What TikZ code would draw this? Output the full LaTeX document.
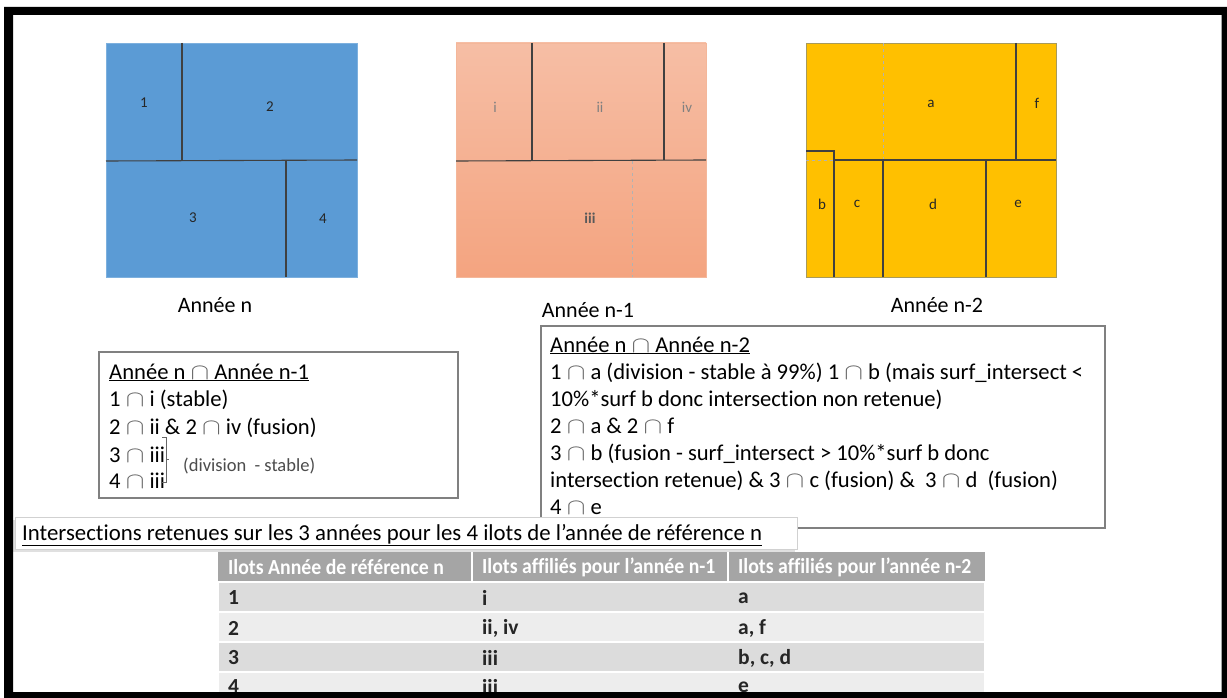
\documentclass[tikz,border=0pt]{standalone}
\usepackage{fontspec}
\setmainfont{Carlito}[Ligatures={NoCommon}]
\definecolor{bluefill}{HTML}{5B9BD5}
\definecolor{blueedge}{HTML}{7DB0DE}
\definecolor{pinktop}{HTML}{F6BEA5}
\definecolor{pinkbot}{HTML}{F4A480}
\definecolor{pinkedge}{HTML}{F4B79A}
\definecolor{yelfill}{HTML}{FFC000}
\definecolor{yeledge}{HTML}{A89A5A}
\definecolor{thfill}{HTML}{A5A5A5}
\definecolor{rowA}{HTML}{DCDCDC}
\definecolor{rowB}{HTML}{EDEDED}
\begin{document}
\begin{tikzpicture}[x=1pt,y=-1pt,
  sq/.style={font=\fontsize{15}{15}\selectfont, text=black!85, inner sep=0pt},
  sqg/.style={font=\fontsize{15}{15}\selectfont, text=black!50, inner sep=0pt},
  capt/.style={font=\fontsize{22}{22}\selectfont, inner sep=0pt},
  ln/.style={anchor=west, inner sep=0pt, font=\fontsize{22.6}{27}\selectfont, text height=15pt, text depth=5pt},
  part/.style={draw=black!75, line width=1.1pt},
  dsh/.style={draw=gray!60, dashed, line width=0.7pt},
  tbox/.style={draw=black!50, line width=1.3pt, fill=white},
  th/.style={anchor=west, font=\bfseries\fontsize{21.5}{21.5}\selectfont, text=white, inner sep=0pt, xscale=0.92},
  td/.style={anchor=west, font=\bfseries\fontsize{21.5}{21.5}\selectfont, text=black!85, inner sep=0pt},
  cell/.style={draw=white, line width=1.5pt}
]
\newcommand{\inter}{{\color{black!60}\scalebox{1.35}[1.1]{$\cap$}}}
\useasboundingbox (0,0) rectangle (1227,698);
\fill[white] (0,0) rectangle (1227,698);

% ---- Année n (blue)
\fill[bluefill, draw=blueedge, line width=0.8pt] (106,43) rectangle (357,277);
\draw[part] (182,43) -- (182,161);
\draw[part] (106,161) -- (357,160);
\draw[part] (286,160) -- (286,277);
\node[sq] (b1) at (144,103) {1};
\node[sq] (b2) at (270,107) {2};
\node[sq] (b3) at (193,218) {3};
\node[sq] (b4) at (323,219) {4};
\node[capt] (cn) at (215,305) {Année n};

% ---- Année n-1 (pink)
\shade[top color=pinktop, bottom color=pinkbot] (456,43) rectangle (706,277);
\draw[pinkedge, line width=0.8pt] (456,43) rectangle (706,277);
\draw[part] (532,43) -- (532,161);
\draw[part] (664,43) -- (664,160);
\draw[part] (456,161) -- (706,160);
\draw[dsh] (632,161) -- (632,277);
\node[sqg] (pi) at (495,107) {i};
\node[sqg] (pii) at (600,107) {ii};
\node[sqg] (piv) at (687,107) {iv};
\node[sq, text=black!65, font=\bfseries\fontsize{15}{15}\selectfont] (piii) at (590,218) {iii};
\node[capt] (cn1) at (588,310) {Année n-1};

% ---- Année n-2 (yellow)
\fill[yelfill, draw=yeledge, line width=0.8pt] (806,43) rectangle (1056,277);
\draw[dsh] (883,43) -- (883,160);
\draw[dsh] (806,160) -- (834,160);
\draw[part] (806,151) -- (834,151) -- (834,277);
\draw[part] (834,160) -- (1056,160);
\draw[part] (1016,43) -- (1016,160);
\draw[part] (883,160) -- (883,277);
\draw[part] (986,160) -- (986,277);
\node[sq] (ya) at (931,104) {a};
\node[sq] (yf) at (1037,103) {f};
\node[sq] (yb) at (822,204) {b};
\node[sq] (yc) at (857,204) {c};
\node[sq] (yd) at (933,204) {d};
\node[sq] (ye) at (1018,204) {e};
\node[capt] (cn2) at (937,305) {Année n-2};

% ---- left text box
\draw[tbox] (99,352) rectangle (458,498);
\node[ln] (l0) at (109,374) {\underline{Année n \inter{} Année n-1}};
\node[ln] (l1) at (109,401) {1 \inter{} i (stable)};
\node[ln] (l2) at (109,429) {2 \inter{} ii \& 2 \inter{} iv (fusion)};
\node[ln] (l3) at (109,457) {3 \inter{} iii};
\node[ln] (l4) at (109,483) {4 \inter{} iii};
\draw[black!60, line width=0.8pt] (162,437) -- (166,437) -- (166,482) -- (162,482);
\draw[black!60, line width=0.8pt] (166,459) -- (169,459);
\node[anchor=west, inner sep=0pt, font=\fontsize{18.5}{18.5}\selectfont, text=black!70] (ldiv) at (183,466) {(division~ - stable)};

% ---- right text box
\draw[tbox] (541,326) rectangle (1105,528);
\node[ln] (r0) at (550,347) {\underline{Année n \inter{} Année n-2}};
\node[ln] (r1) at (550,374) {1 \inter{} a (division - stable à 99\%) 1 \inter{} b (mais surf\_intersect <};
\node[ln] (r2) at (550,401) {10\%*surf b donc intersection non retenue)};
\node[ln] (r3) at (550,428) {2 \inter{} a \& 2 \inter{} f};
\node[ln] (r4) at (550,455) {3 \inter{} b (fusion - surf\_intersect > 10\%*surf b donc};
\node[ln] (r5) at (550,482) {intersection retenue) \& 3 \inter{} c (fusion) \&~ 3 \inter{} d~ (fusion)};
\node[ln] (r6) at (550,509) {4 \inter{} e};

% ---- overlay title box
\fill[black!12] (12,520) rectangle (795,552);
\fill[white, draw=black!18, line width=0.8pt] (15,517) rectangle (797,549);
\node[anchor=west, inner sep=0pt, font=\fontsize{22.8}{22.8}\selectfont] (ttl) at (22,535)
  {\underline{Intersections retenues sur les 3 années pour les 4 ilots de l’année de référence n}};

% ---- table
\fill[thfill] (218,552) rectangle (985,582);
\draw[cell] (472,552) -- (472,582);
\draw[cell] (728,552) -- (728,582);
\filldraw[fill=rowA, cell] (218,582) rectangle (985,612);
\filldraw[fill=rowB, cell] (218,612) rectangle (985,642);
\filldraw[fill=rowA, cell] (218,642) rectangle (985,672);
\filldraw[fill=rowB, cell] (218,672) rectangle (985,702);
\node[th] (h1) at (228,567) {Ilots Année de référence n};
\node[th] (h2) at (482,567) {Ilots affiliés pour l’année n-1};
\node[th] (h3) at (738,567) {Ilots affiliés pour l’année n-2};
\node[td] (t11) at (228,598) {1};
\node[td] (t12) at (482,598) {i};
\node[td] (t13) at (738,598) {a};
\node[td] (t21) at (228,628) {2};
\node[td] (t22) at (482,628) {ii, iv};
\node[td] (t23) at (738,628) {a, f};
\node[td] (t31) at (228,658) {3};
\node[td] (t32) at (482,658) {iii};
\node[td] (t33) at (738,658) {b, c, d};
\node[td] (t41) at (228,687) {4};
\node[td] (t42) at (482,687) {iii};
\node[td] (t43) at (738,687) {e};

% ---- black frame
\fill[black, even odd rule] (4,7) rectangle (1227,698) (13,15) rectangle (1221.5,692);
\end{tikzpicture}
\end{document}
